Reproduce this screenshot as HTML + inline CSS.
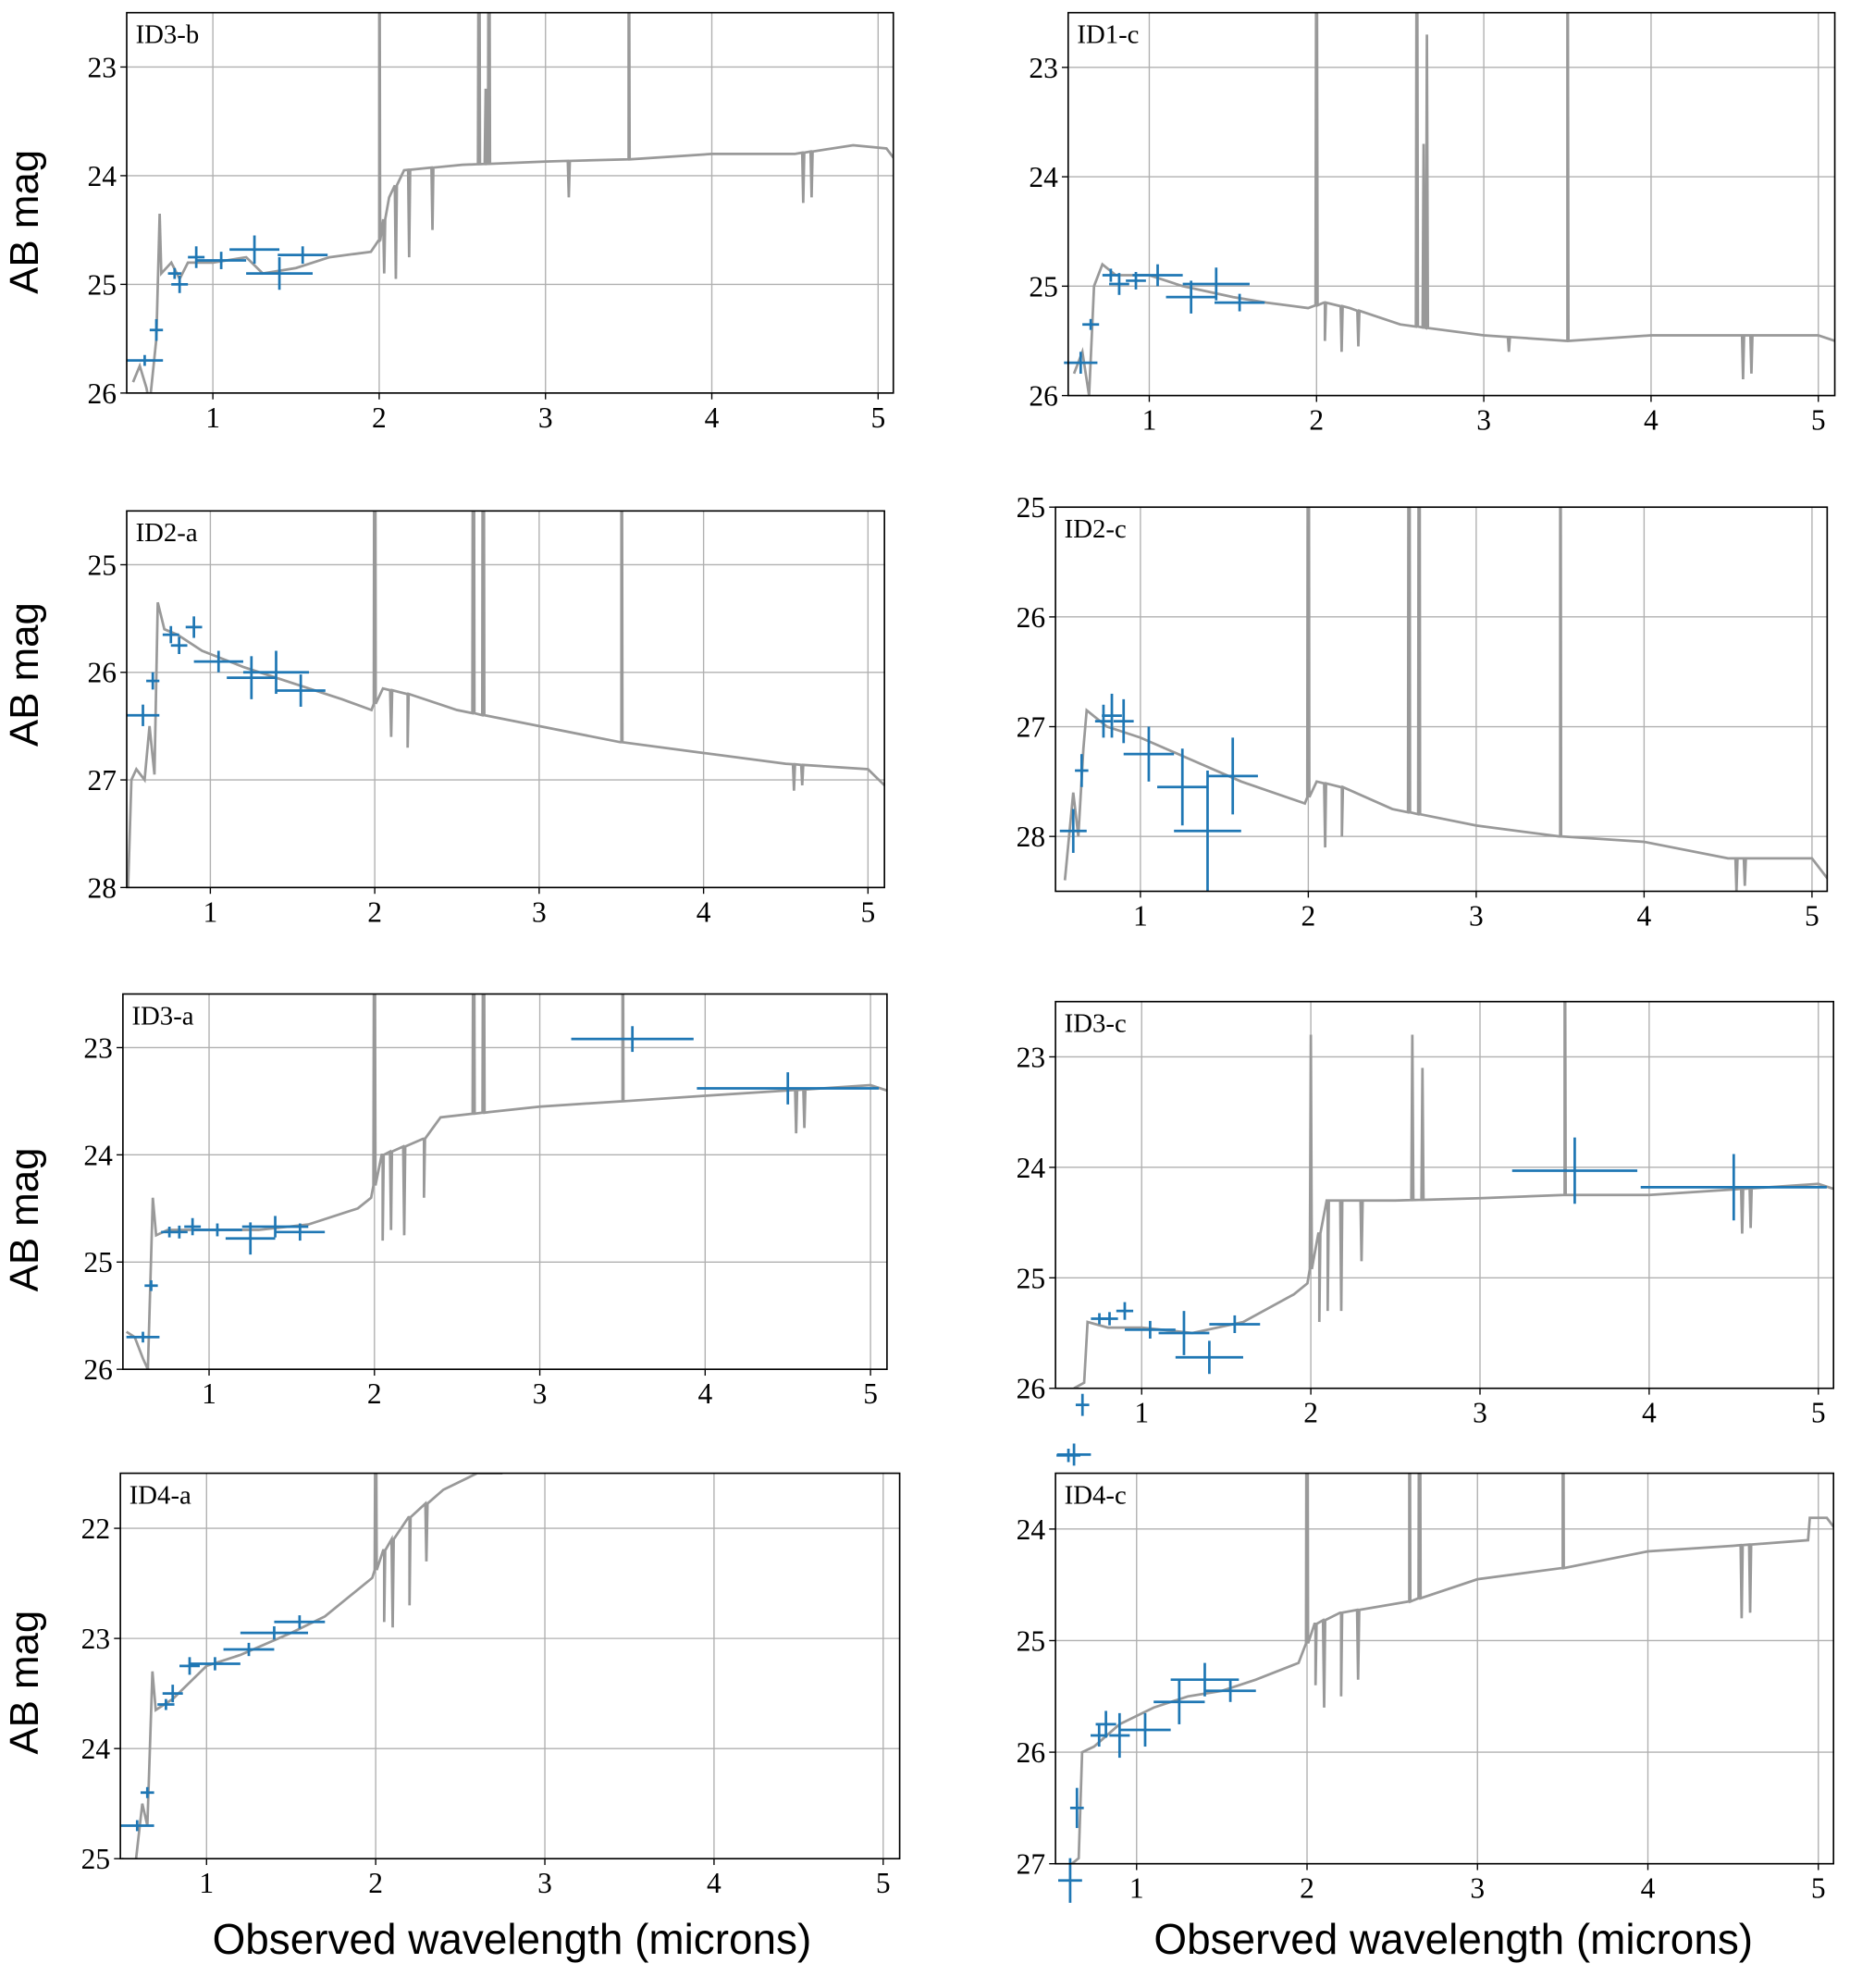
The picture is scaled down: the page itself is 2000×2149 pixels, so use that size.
<!DOCTYPE html>
<html><head><meta charset="utf-8"><style>
html,body{margin:0;padding:0;background:#fff}
svg{display:block}
</style></head><body>
<svg id="fig" width="2000" height="2149" viewBox="0 0 1460 1568" preserveAspectRatio="none" xmlns="http://www.w3.org/2000/svg">
<text transform="translate(30,175) rotate(-90)" text-anchor="middle" font-family="Liberation Sans, sans-serif" font-size="32">AB mag</text>
<text transform="translate(30,532) rotate(-90)" text-anchor="middle" font-family="Liberation Sans, sans-serif" font-size="32">AB mag</text>
<text transform="translate(30,962) rotate(-90)" text-anchor="middle" font-family="Liberation Sans, sans-serif" font-size="32">AB mag</text>
<text transform="translate(30,1327) rotate(-90)" text-anchor="middle" font-family="Liberation Sans, sans-serif" font-size="32">AB mag</text>
<text x="404" y="1541" text-anchor="middle" font-family="Liberation Sans, sans-serif" font-size="33.5">Observed wavelength (microns)</text>
<text x="1147" y="1541" text-anchor="middle" font-family="Liberation Sans, sans-serif" font-size="33.5">Observed wavelength (microns)</text>
</svg>
<script>
// ---- data ----
const panelNames = ["ID3-b","ID1-c","ID2-a","ID2-c","ID3-a","ID3-c","ID4-a","ID4-c"];
const yTop = [22.5,22.5,24.5,25,22.5,22.5,21.5,23.5];
const yBottom = [26,26,28,28.5,26,26,25,27];
const yTicks = [[23,24,25,26],[23,24,25,26],[25,26,27,28],[25,26,27,28],[23,24,25,26],[23,24,25,26],[22,23,24,25],[24,25,26,27]];
const xTicks = [1,2,3,4,5];
// spectra knots: [wavelength, mag]
const spec0 = [[0.52,25.9],[0.56,25.75],[0.6,25.95],[0.62,26.1],[0.66,25.5],[0.68,24.35],[0.69,24.9],[0.75,24.8],[0.8,24.95],[0.85,24.8],[1.0,24.8],[1.2,24.75],[1.3,24.9],[1.5,24.85],[1.7,24.75],[1.95,24.7],[2.0,24.6],[2.06,24.2],[2.15,23.95],[2.5,23.9],[3.0,23.87],[3.5,23.85],[4.0,23.8],[4.5,23.8],[4.85,23.72],[5.05,23.75],[5.1,23.85]];
const spec1 = [[0.55,25.8],[0.6,25.6],[0.64,26.0],[0.67,25.0],[0.72,24.8],[0.8,24.9],[1.0,24.9],[1.2,25.0],[1.5,25.1],[1.7,25.15],[1.95,25.2],[2.05,25.15],[2.2,25.2],[2.5,25.35],[3.0,25.45],[3.5,25.5],[4.0,25.45],[4.5,25.45],[5.0,25.45],[5.1,25.5]];
const spec2 = [[0.5,28],[0.52,27.0],[0.55,26.9],[0.6,27.0],[0.63,26.5],[0.66,26.95],[0.68,25.35],[0.72,25.6],[0.8,25.65],[0.95,25.8],[1.2,25.95],[1.5,26.1],[1.8,26.25],[1.98,26.35],[2.05,26.15],[2.2,26.2],[2.5,26.35],[3.0,26.5],[3.5,26.65],[4.0,26.75],[4.5,26.85],[5.0,26.9],[5.1,27.05]];
const spec3 = [[0.55,28.4],[0.6,27.6],[0.63,28.0],[0.66,27.2],[0.68,26.85],[0.72,26.9],[0.8,27.0],[1.0,27.1],[1.3,27.3],[1.6,27.5],[1.98,27.7],[2.05,27.5],[2.2,27.55],[2.5,27.75],[3.0,27.9],[3.5,28.0],[4.0,28.05],[4.5,28.2],[5.0,28.2],[5.1,28.4]];
const spec4 = [[0.5,25.65],[0.55,25.7],[0.6,25.9],[0.63,26.0],[0.66,24.4],[0.68,24.75],[0.75,24.7],[1.0,24.7],[1.3,24.7],[1.6,24.65],[1.9,24.5],[1.98,24.4],[2.05,24.0],[2.3,23.85],[2.4,23.65],[2.7,23.6],[3.0,23.55],[3.5,23.5],[4.0,23.45],[4.5,23.4],[5.0,23.35],[5.1,23.4]];
const spec5 = [[0.6,26.0],[0.66,25.95],[0.68,25.4],[0.8,25.45],[1.0,25.45],[1.3,25.5],[1.6,25.4],[1.9,25.15],[1.98,25.05],[2.05,24.6],[2.1,24.3],[2.5,24.3],[3.0,24.28],[3.5,24.25],[4.0,24.25],[4.5,24.2],[5.0,24.15],[5.1,24.2]];
const spec6 = [[0.5,25.0],[0.58,25.05],[0.62,24.5],[0.65,24.7],[0.68,23.3],[0.7,23.65],[0.8,23.55],[0.9,23.4],[1.0,23.25],[1.2,23.15],[1.5,22.95],[1.7,22.8],[1.9,22.55],[1.98,22.45],[2.05,22.2],[2.2,21.9],[2.4,21.65],[2.6,21.5],[2.75,21.5]];
const spec7 = [[0.62,27.0],[0.66,26.95],[0.68,26.0],[0.75,25.95],[0.9,25.75],[1.1,25.6],[1.3,25.5],[1.5,25.45],[1.7,25.35],[1.95,25.2],[2.05,24.85],[2.2,24.75],[2.6,24.65],[3.0,24.45],[3.5,24.35],[4.0,24.2],[4.5,24.15],[4.94,24.1],[4.95,23.9],[5.05,23.9],[5.1,24.0]];
const spectra = [spec0,spec1,spec2,spec3,spec4,spec5,spec6,spec7];
// spectral features: [wavelength, peak mag]
const feat0 = [[2.0,20],[2.03,24.9],[2.1,24.95],[2.18,24.75],[2.32,24.5],[2.6,20],[2.64,23.2],[2.66,20],[3.14,24.2],[3.5,20],[4.55,24.25],[4.6,24.2]];
const feat1 = [[2.0,20],[2.05,25.5],[2.15,25.6],[2.25,25.55],[2.6,20],[2.64,23.7],[2.66,22.7],[3.15,25.6],[3.5,20],[4.55,25.85],[4.6,25.8]];
const feat2 = [[2.0,20],[2.1,26.6],[2.2,26.7],[2.6,20],[2.66,20],[3.5,20],[4.55,27.1],[4.6,27.05]];
const feat3 = [[2.0,20],[2.1,28.1],[2.2,28.0],[2.6,20],[2.66,20],[3.5,20],[4.55,28.5],[4.6,28.45]];
const feat4 = [[2.0,20],[2.05,24.8],[2.1,24.7],[2.18,24.75],[2.3,24.4],[2.6,20],[2.66,20],[3.5,20],[4.55,23.8],[4.6,23.75]];
const feat5 = [[2.0,22.8],[2.05,25.4],[2.1,25.3],[2.18,25.3],[2.3,24.85],[2.6,22.8],[2.66,23.1],[3.5,20],[4.55,24.6],[4.6,24.55]];
const feat6 = [[2.0,20],[2.05,22.85],[2.1,22.9],[2.2,22.7],[2.3,22.3]];
const feat7 = [[2.0,20],[2.05,25.4],[2.1,25.6],[2.2,25.5],[2.3,25.35],[2.6,20],[2.66,20],[3.5,20],[4.55,24.8],[4.6,24.75]];
const features = [feat0,feat1,feat2,feat3,feat4,feat5,feat6,feat7];
// photometry: [wavelength, mag, xerr, yerr]
const phot0 = [[0.59,25.7,0.11,0.05],[0.66,25.42,0.04,0.1],[0.77,24.9,0.04,0.05],[0.8,25.0,0.05,0.08],[0.9,24.75,0.05,0.1],[1.05,24.78,0.15,0.08],[1.25,24.68,0.15,0.13],[1.4,24.9,0.2,0.15],[1.54,24.73,0.15,0.08]];
const phot1 = [[0.59,25.7,0.1,0.1],[0.65,25.35,0.05,0.05],[0.77,24.9,0.05,0.06],[0.82,24.98,0.06,0.1],[0.92,24.95,0.06,0.08],[1.05,24.9,0.15,0.1],[1.25,25.1,0.15,0.15],[1.4,24.98,0.2,0.15],[1.54,25.15,0.15,0.08]];
const phot2 = [[0.59,26.4,0.1,0.1],[0.65,26.08,0.04,0.08],[0.76,25.65,0.05,0.08],[0.81,25.75,0.05,0.08],[0.9,25.58,0.05,0.1],[1.05,25.9,0.15,0.1],[1.25,26.05,0.15,0.2],[1.4,26.0,0.2,0.2],[1.55,26.17,0.15,0.15]];
const phot3 = [[0.6,27.95,0.08,0.2],[0.65,27.4,0.04,0.15],[0.78,26.95,0.05,0.15],[0.83,26.9,0.06,0.2],[0.9,26.95,0.06,0.2],[1.05,27.25,0.15,0.25],[1.25,27.55,0.15,0.35],[1.4,27.95,0.2,0.55],[1.55,27.45,0.15,0.35]];
const phot4 = [[0.6,25.7,0.1,0.05],[0.65,25.22,0.04,0.05],[0.76,24.72,0.05,0.05],[0.82,24.72,0.05,0.06],[0.9,24.67,0.05,0.08],[1.05,24.7,0.15,0.06],[1.25,24.78,0.15,0.15],[1.4,24.67,0.2,0.1],[1.55,24.72,0.15,0.08],[3.56,22.92,0.37,0.12],[4.5,23.38,0.55,0.15]];
const phot5 = [[0.6,26.6,0.1,0.1],[0.65,26.15,0.04,0.1],[0.75,25.37,0.05,0.05],[0.81,25.37,0.05,0.06],[0.9,25.3,0.05,0.08],[1.05,25.47,0.15,0.08],[1.25,25.5,0.15,0.2],[1.4,25.72,0.2,0.15],[1.55,25.42,0.15,0.08],[3.56,24.03,0.37,0.3],[4.5,24.18,0.55,0.3]];
const phot6 = [[0.59,24.7,0.1,0.05],[0.65,24.4,0.04,0.05],[0.76,23.6,0.05,0.05],[0.8,23.5,0.06,0.08],[0.9,23.25,0.06,0.08],[1.05,23.23,0.15,0.06],[1.25,23.1,0.15,0.06],[1.4,22.95,0.2,0.06],[1.55,22.85,0.15,0.06]];
const phot7 = [[0.6,23.34,0.07,0.06],[0.61,27.15,0.07,0.2],[0.65,26.5,0.04,0.18],[0.78,25.85,0.05,0.1],[0.82,25.75,0.06,0.12],[0.9,25.85,0.06,0.2],[1.05,25.8,0.15,0.15],[1.25,25.55,0.15,0.2],[1.4,25.35,0.2,0.15],[1.55,25.45,0.15,0.1]];
const photometry = [phot0,phot1,phot2,phot3,phot4,phot5,phot6,phot7];

// ---- layout (display units) ----
const boxes = [
 {l:100,r:705,t:10,b:310,x1:168,x5:693},
 {l:843,r:1448,t:10,b:312,x1:907,x5:1435},
 {l:100,r:698,t:403,b:700,x1:166,x5:685},
 {l:833,r:1442,t:400,b:703,x1:900,x5:1430},
 {l:97,r:700,t:784,b:1080,x1:165,x5:687},
 {l:833,r:1447,t:790,b:1095,x1:901,x5:1435},
 {l:95,r:710,t:1162,b:1466,x1:163,x5:697},
 {l:833,r:1447,t:1162,b:1470,x1:897,x5:1435}
];
const NS="http://www.w3.org/2000/svg";
const svg=document.getElementById('fig');
function mk(tag,attrs,parent){const e=document.createElementNS(NS,tag);for(const k in attrs)e.setAttribute(k,attrs[k]);(parent||svg).appendChild(e);return e;}
function interp(k,x){if(x<=k[0][0])return k[0][1];for(let i=1;i<k.length;i++){if(x<=k[i][0]){const a=k[i-1],b=k[i];return a[1]+(b[1]-a[1])*(x-a[0])/(b[0]-a[0]);}}return k[k.length-1][1];}

boxes.forEach((B,p)=>{
  const xs=v=>B.x1+(v-1)*(B.x5-B.x1)/4;
  const ys=v=>B.t+(v-yTop[p])*(B.b-B.t)/(yBottom[p]-yTop[p]);
  const g=mk('g',{});
  
  
  const cid='clip'+p;
  const cp=mk('clipPath',{id:cid},g);mk('rect',{x:B.l,y:B.t,width:B.r-B.l,height:B.b-B.t},cp);
  xTicks.forEach(t=>{const X=xs(t);
    const gl=mk('line',{x1:X,x2:X,y1:B.t,y2:B.b,stroke:'#b0b0b0','stroke-width':1},g);
    
    mk('line',{x1:X,x2:X,y1:B.b,y2:B.b+5,stroke:'#000','stroke-width':1},g);
    const tl=mk('text',{x:X,y:B.b+27,'text-anchor':'middle','font-family':'Liberation Serif, serif','font-size':23},g);
    tl.textContent=t;
  });
  yTicks[p].forEach(t=>{const Y=ys(t);
    const gl=mk('line',{x1:B.l,x2:B.r,y1:Y,y2:Y,stroke:'#b0b0b0','stroke-width':1},g);
    
    mk('line',{x1:B.l-5,x2:B.l,y1:Y,y2:Y,stroke:'#000','stroke-width':1},g);
    const tl=mk('text',{x:B.l-8,y:Y+8,'text-anchor':'end','font-family':'Liberation Serif, serif','font-size':23},g);
    tl.textContent=t;
  });
  const k=spectra[p];const pts=k.map(a=>[a[0],a[1]]);
  features[p].forEach(f=>{const base=interp(k,f[0]);pts.push([f[0]-0.006,base],[f[0],f[1]],[f[0]+0.006,base]);});
  pts.sort((a,b)=>a[0]-b[0]);
  const d=pts.map((q,i)=>(i?'L':'M')+xs(q[0]).toFixed(1)+','+ys(q[1]).toFixed(1)).join('');
  const sp=mk('path',{d:d,fill:'none',stroke:'#999','stroke-width':2,'clip-path':'url(#'+cid+')'},g);
  
  photometry[p].forEach(q=>{
    const pg=mk('g',{stroke:'#1f77b4','stroke-width':2},g);
    
    mk('line',{x1:xs(q[0]-q[2]),x2:xs(q[0]+q[2]),y1:ys(q[1]),y2:ys(q[1])},pg);
    mk('line',{x1:xs(q[0]),x2:xs(q[0]),y1:ys(q[1]-q[3]),y2:ys(q[1]+q[3])},pg);
  });
  const fr=mk('rect',{x:B.l,y:B.t,width:B.r-B.l,height:B.b-B.t,fill:'none',stroke:'#000','stroke-width':1.2},g);
  
  const lb=mk('text',{x:B.l+7,y:B.t+24,'font-family':'Liberation Serif, serif','font-size':21},g);
  lb.textContent=panelNames[p];
});
</script>
</body></html>
